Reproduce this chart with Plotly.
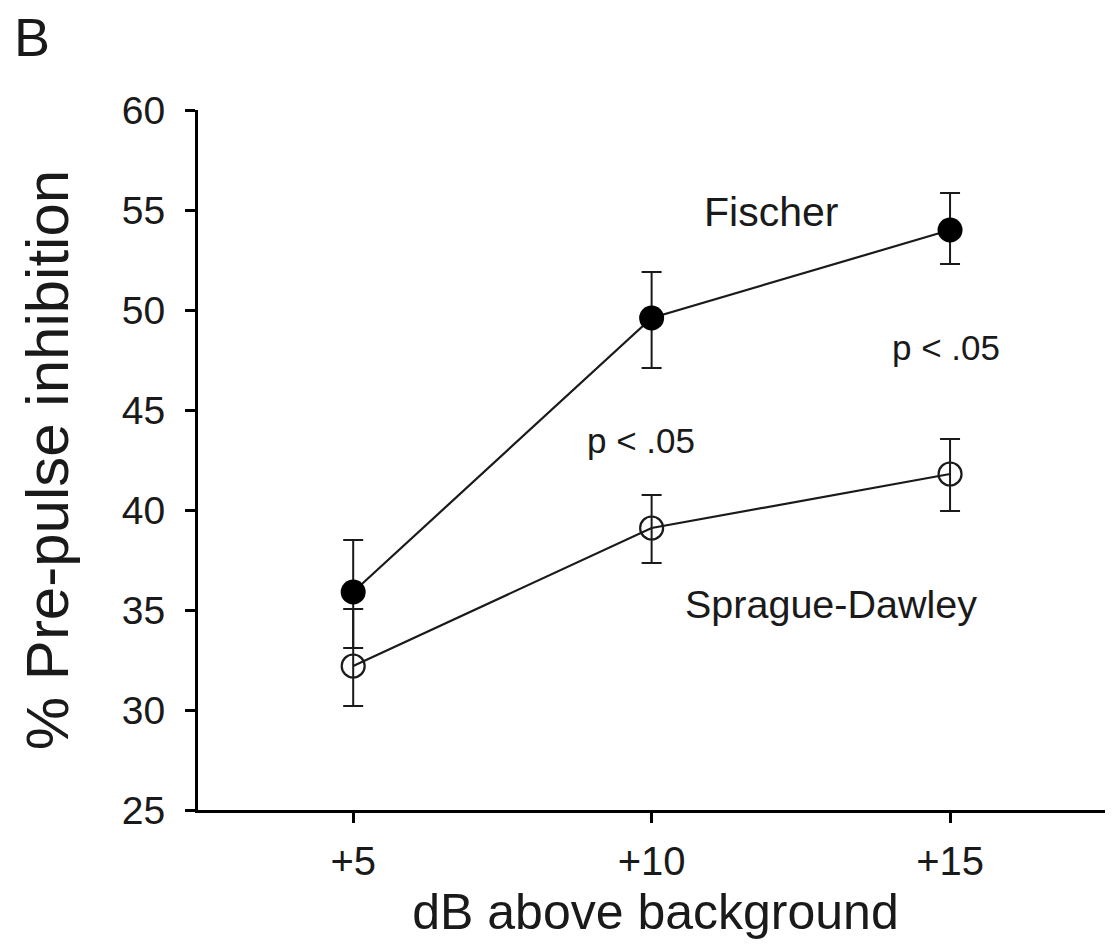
import plotly.graph_objects as go

# Data
x_db = [5, 10, 15]
x_ticktext = ["+5", "+10", "+15"]
y_ticks = [25, 30, 35, 40, 45, 50, 55, 60]

fischer_mean = [35.9, 49.6, 54.0]
fischer_err_plus = [2.6, 2.3, 1.85]
fischer_err_minus = [2.8, 2.5, 1.7]

sd_mean = [32.2, 39.1, 41.8]
sd_err_plus = [2.85, 1.65, 1.75]
sd_err_minus = [2.0, 1.75, 1.85]

FONT = "Liberation Sans, Arial, sans-serif"
INK = "#1a1a1a"

W, H = 1113, 951
L, R, T, B = 190, 8, 102, 149
PW, PH = W - L - R, H - T - B
OFF = 8  # page offset of the figure


def px(X):
    return (X - OFF - L) / PW


def py(Y):
    return 1 - (Y - OFF - T) / PH


fig = go.Figure()

fig.add_trace(go.Scatter(
    x=x_db, y=sd_mean, mode="lines+markers", name="Sprague-Dawley",
    line=dict(color=INK, width=2.2),
    marker=dict(symbol="circle-open", size=23, color=INK, line=dict(width=2.2, color=INK)),
    error_y=dict(type="data", array=sd_err_plus, arrayminus=sd_err_minus,
                 symmetric=False, thickness=2, width=10, color=INK),
))

fig.add_trace(go.Scatter(
    x=x_db, y=fischer_mean, mode="lines+markers", name="Fischer",
    line=dict(color=INK, width=2.2),
    marker=dict(symbol="circle", size=25, color="black"),
    error_y=dict(type="data", array=fischer_err_plus, arrayminus=fischer_err_minus,
                 symmetric=False, thickness=2, width=10, color=INK),
))

fig.update_layout(
    width=W, height=H,
    margin=dict(l=L, r=R, t=T, b=B),
    paper_bgcolor="white", plot_bgcolor="white",
    showlegend=False,
    font=dict(family=FONT, color=INK),
)

fig.update_xaxes(
    range=[2.40, 17.73], tickvals=x_db, ticktext=x_ticktext,
    showline=True, linecolor="black", linewidth=3,
    ticks="outside", ticklen=10, tickwidth=3, tickcolor="black",
    ticklabelstandoff=4,
    showgrid=False, zeroline=False,
    tickfont=dict(size=40, family=FONT, color=INK),
    title=dict(text="dB above background", font=dict(size=50, family=FONT, color=INK), standoff=12),
)
fig.update_yaxes(
    range=[25, 60], tickvals=y_ticks,
    showline=True, linecolor="black", linewidth=3,
    ticks="outside", ticklen=10, tickwidth=3, tickcolor="black",
    ticklabelstandoff=12,
    showgrid=False, zeroline=False,
    tickfont=dict(size=39, family=FONT, color=INK),
    title=dict(text="% Pre-pulse inhibition", font=dict(size=60, family=FONT, color=INK), standoff=34),
)

annots = [
    dict(text="Fischer", x=771, y=212, size=41),
    dict(text="Sprague-Dawley", x=831, y=604, size=39.5),
    dict(text="p < .05", x=641, y=440, size=35),
    dict(text="p < .05", x=946, y=347, size=35),
]
for a in annots:
    fig.add_annotation(
        text=a["text"], xref="paper", yref="paper",
        x=px(a["x"]), y=py(a["y"]),
        showarrow=False, xanchor="center", yanchor="middle",
        font=dict(size=a["size"], family=FONT, color=INK),
    )

fig.add_annotation(
    text="B", xref="paper", yref="paper",
    x=px(32), y=py(37),
    showarrow=False, xanchor="center", yanchor="middle",
    font=dict(size=54, family=FONT, color=INK),
)

fig.write_html("out.html")
